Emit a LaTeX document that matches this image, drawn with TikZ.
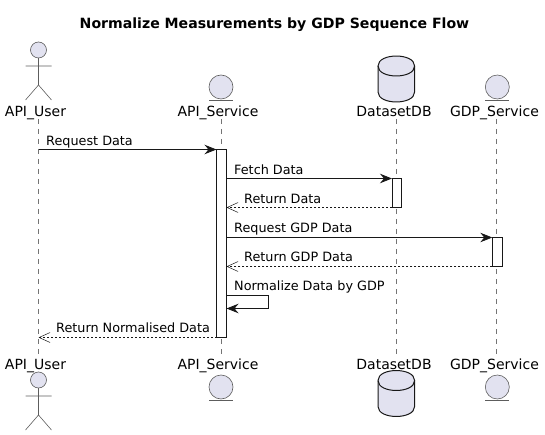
\documentclass[tikz,border=0pt]{standalone}
\usepackage{fontspec}
\setmainfont{DejaVu Sans}
\usetikzlibrary{arrows.meta}
\definecolor{partfill}{HTML}{E2E2F0}
\definecolor{inkline}{HTML}{181818}
\tikzset{
 partname/.style={inner sep=0pt,anchor=base,text=black,font=\fontsize{14}{16}\selectfont},
 msgtext/.style={inner sep=0pt,anchor=base west,text=black,font=\fontsize{12.8}{15}\selectfont},
 lifeline/.style={draw=inkline!60,line width=0.5pt,dash pattern=on 5pt off 5pt},
 bar/.style={draw=inkline,fill=white,line width=0.8pt,minimum width=9.5pt,inner sep=0pt},
 callmsg/.style={draw=inkline,line width=0.8pt,-{Stealth[length=12pt,width=9.5pt,inset=4pt]}},
 backmsg/.style={draw=inkline,line width=0.6pt,dash pattern=on 2pt off 2pt,-{Straight Barb[length=11pt,width=10pt,line width=0.5pt]}},
 actorfig/.pic={
  \draw[draw=inkline!70,line width=0.6pt,fill=partfill] (0,8) circle (8pt);
  \draw[draw=inkline!70,line width=0.6pt] (0,16)--(0,43) (-13,24)--(13,24) (-13,58)--(0,43)--(13,58);
 },
 entityfig/.pic={
  \draw[draw=inkline!70,line width=0.6pt,fill=partfill] (0,0) circle (12pt);
  \draw[draw=inkline!70,line width=0.5pt] (-12,13.3)--(12,13.3);
 },
 dbfig/.pic={
  \draw[draw=inkline,line width=1pt,fill=partfill] (-18.3,10) .. controls (-18.3,-3.3) and (18.3,-3.3) .. (18.3,10) -- (18.3,36) .. controls (18.3,49.3) and (-18.3,49.3) .. (-18.3,36) -- cycle;
  \draw[draw=inkline,line width=1pt] (-18.3,10) .. controls (-18.3,23.3) and (18.3,23.3) .. (18.3,10);
 }
}
\begin{document}
\begin{tikzpicture}[x=1pt,y=-1pt]
\useasboundingbox (0,0) rectangle (545,435);
\node[inner sep=0pt,anchor=base,font=\bfseries\fontsize{14.1}{16}\selectfont] (title) at (274.5,29) {Normalize Measurements by GDP Sequence Flow};
\node[partname] (usertop) at (35.5,116.5) {API\_User};
\node[partname] (svctop) at (218,116.5) {API\_Service};
\node[partname] (dbtop) at (394,116.5) {DatasetDB};
\node[partname] (gdptop) at (494.5,116.5) {GDP\_Service};
\node[partname] (userbot) at (35.5,369) {API\_User};
\node[partname] (svcbot) at (218,369) {API\_Service};
\node[partname] (dbbot) at (394,369) {DatasetDB};
\node[partname] (gdpbot) at (494.5,369) {GDP\_Service};
\pic at (38.5,42) {actorfig};
\pic at (38.5,372) {actorfig};
\pic at (221,87) {entityfig};
\pic at (221,387) {entityfig};
\pic at (396.3,56) {dbfig};
\pic at (396.3,370.5) {dbfig};
\pic at (497.3,87) {entityfig};
\pic at (497.3,387) {entityfig};
\coordinate (userup) at (38.5,119);
\coordinate (userdown) at (38.5,354);
\coordinate (svcup) at (221.5,119);
\coordinate (svcdown) at (221.5,354);
\coordinate (dbup) at (396.5,119);
\coordinate (dbdown) at (396.5,354);
\coordinate (gdpup) at (496.5,119);
\coordinate (gdpdown) at (496.5,354);
\path[lifeline] (userup) -- (userdown);
\path[lifeline] (svcup) -- (svcdown);
\path[lifeline] (dbup) -- (dbdown);
\path[lifeline] (gdpup) -- (gdpdown);
\node[bar,minimum height=188pt] (svcbar) at (221.5,243.5) {};
\node[bar,minimum height=29pt] (dbbar) at (396.8,193) {};
\node[bar,minimum height=29pt] (gdpbar) at (497.3,252) {};
\coordinate (userreq) at (38.5,149.5);
\coordinate (svcreq) at (216.5,149.5);
\coordinate (svcfetch) at (226.5,178.5);
\coordinate (dbfetch) at (392,178.5);
\coordinate (dbret) at (392,207.5);
\coordinate (svcret) at (226.5,207.5);
\coordinate (svcgdp) at (226.5,237.5);
\coordinate (gdpreq) at (492.3,237.5);
\coordinate (gdpret) at (492.3,266.5);
\coordinate (svcgot) at (226.5,266.5);
\coordinate (selfa) at (226.5,295.5);
\coordinate (selfb) at (268.5,295.5);
\coordinate (selfc) at (268.5,308.5);
\coordinate (selfd) at (226.5,308.5);
\coordinate (svcback) at (216.5,337.5);
\coordinate (userback) at (38.5,337.5);
\path[callmsg] (userreq) -- (svcreq);
\path[callmsg] (svcfetch) -- (dbfetch);
\path[backmsg] (dbret) -- (svcret);
\path[callmsg] (svcgdp) -- (gdpreq);
\path[backmsg] (gdpret) -- (svcgot);
\path[callmsg] (selfa) -- (selfb) -- (selfc) -- (selfd);
\path[backmsg] (svcback) -- (userback);
\node[msgtext] (reqlabel) at (46,145.6) {Request Data};
\node[msgtext] (fetchlabel) at (234,174.6) {Fetch Data};
\node[msgtext] (retlabel) at (244,203.6) {Return Data};
\node[msgtext] (gdplabel) at (234,232.6) {Request GDP Data};
\node[msgtext] (gotlabel) at (244,261.6) {Return GDP Data};
\node[msgtext] (normlabel) at (234,290.6) {Normalize Data by GDP};
\node[msgtext] (backlabel) at (56,332.6) {Return Normalised Data};
\end{tikzpicture}
\end{document}
